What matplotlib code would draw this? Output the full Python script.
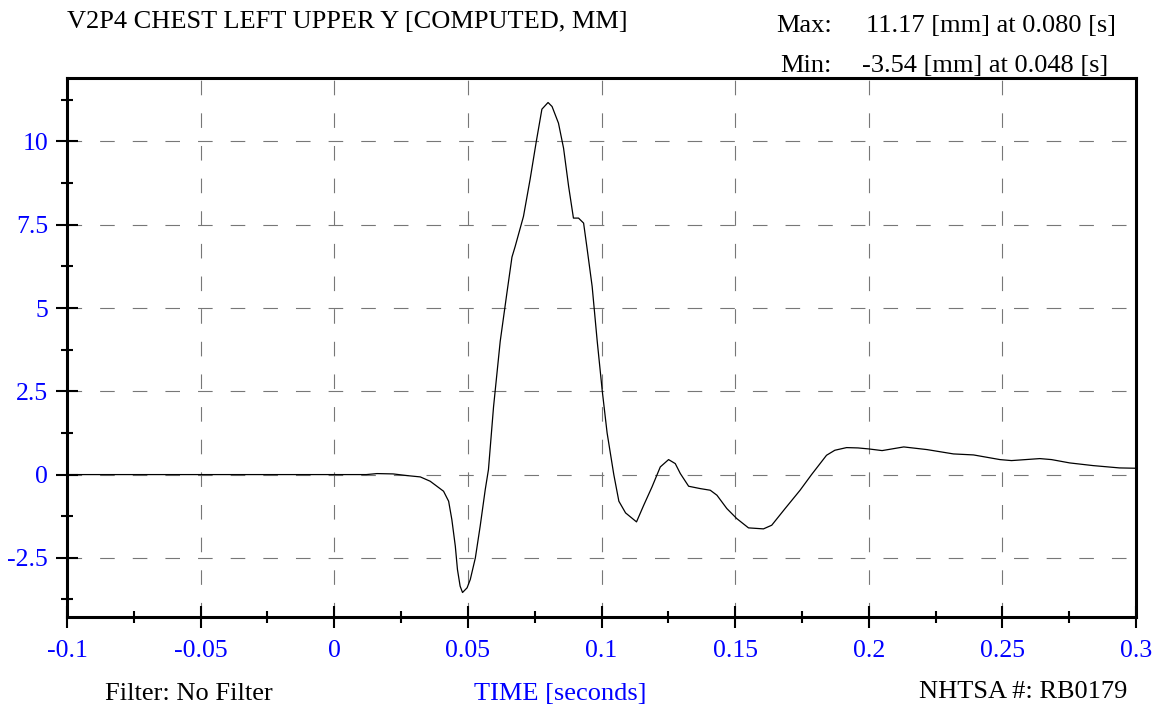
#!/usr/bin/env python3
"""
Chest deflection trace (V2P4, left upper Y) - NHTSA test RB0179
"""

import matplotlib
matplotlib.use('Agg')
import matplotlib.pyplot as plt
from matplotlib.ticker import MultipleLocator, FuncFormatter

plt.rcParams['font.family'] = ['Liberation Serif', 'DejaVu Serif']
plt.rcParams['lines.scale_dashes'] = False

# Trace (time in s, displacement in mm)
time_s = [-0.1, 0.0, 0.012, 0.016, 0.022, 0.0272, 0.0322, 0.0359, 0.0384, 0.0409,
          0.0428, 0.044, 0.0453, 0.0461, 0.0471, 0.048, 0.0497, 0.0509, 0.0528, 0.0546,
          0.0565, 0.0577, 0.0596, 0.0621, 0.0646, 0.0665, 0.0677, 0.0708, 0.0733, 0.0756,
          0.0777, 0.080, 0.0815, 0.0839, 0.0858, 0.0877, 0.0895, 0.0914, 0.0933, 0.0945,
          0.0965, 0.0984, 0.1003, 0.1021, 0.1046, 0.1065, 0.109, 0.1131, 0.1158, 0.1189,
          0.122, 0.1251, 0.1276, 0.1295, 0.1326, 0.1369, 0.1407, 0.1432, 0.1469, 0.1506,
          0.155, 0.1606, 0.1637, 0.1687, 0.1743, 0.1786, 0.1842, 0.1873, 0.1917, 0.196,
          0.2, 0.205, 0.2131, 0.2218, 0.2317, 0.2392, 0.2491, 0.2534, 0.264, 0.2684,
          0.2752, 0.2839, 0.2938, 0.3]
disp_mm = [0.0, 0.0, 0.0, 0.03, 0.02, -0.03, -0.07, -0.2, -0.35, -0.5,
           -0.8, -1.35, -2.15, -2.85, -3.35, -3.54, -3.4, -3.15, -2.5, -1.55,
           -0.45, 0.15, 2.03, 4.0, 5.45, 6.53, 6.85, 7.75, 8.87, 10.0,
           10.97, 11.17, 11.05, 10.55, 9.8, 8.65, 7.7, 7.7, 7.55, 6.85,
           5.65, 4.0, 2.5, 1.25, 0.0, -0.8, -1.15, -1.42, -0.92, -0.37,
           0.23, 0.45, 0.33, 0.03, -0.35, -0.42, -0.47, -0.62, -1.02, -1.32,
           -1.6, -1.63, -1.52, -1.02, -0.47, 0.0, 0.58, 0.73, 0.81, 0.8,
           0.77, 0.72, 0.83, 0.75, 0.62, 0.59, 0.45, 0.42, 0.48, 0.45,
           0.35, 0.27, 0.2, 0.19]

title = 'V2P4 CHEST LEFT UPPER Y [COMPUTED, MM]'
max_val, max_t = 11.17, 0.080
min_val, min_t = -3.54, 0.048
filter_text = 'Filter: No Filter'
test_id = 'NHTSA #: RB0179'

W, H = 1160, 709
fig = plt.figure(figsize=(W / 100, H / 100), dpi=100)
ax = fig.add_axes([67 / W, 1 - 617 / H, (1136 - 67) / W, (617 - 78) / H])

ax.plot(time_s, disp_mm, color='black', linewidth=0.9)

# 5% margin around data range, like the original software
span = max_val - min_val
ax.set_xlim(-0.1, 0.3)
ax.set_ylim(min_val - 0.05 * span, max_val + 0.05 * span)

ax.xaxis.set_major_locator(MultipleLocator(0.05))
ax.xaxis.set_minor_locator(MultipleLocator(0.025))
ax.yaxis.set_major_locator(MultipleLocator(2.5))
ax.yaxis.set_minor_locator(MultipleLocator(1.25))
fmt = FuncFormatter(lambda v, p: f'{round(v, 4) + 0.0:g}')
ax.xaxis.set_major_formatter(fmt)
ax.yaxis.set_major_formatter(fmt)

ax.grid(True, which='major', color='#777777', linewidth=0.8,
        linestyle=(0, (10.5, 13)))

ax.tick_params(which='major', direction='inout', length=16, width=1.5,
               labelsize=18.5, labelcolor='blue', top=False, right=False)
ax.tick_params(which='minor', direction='inout', length=8.5, width=1.5,
               top=False, right=False)
ax.tick_params(axis='x', which='major', pad=8.5)
ax.tick_params(axis='y', which='major', pad=5.5)

for sp in ax.spines.values():
    sp.set_linewidth(2.2)

# Header / footer texts
fs = 19
fig.text(67 / W, 1 - 28 / H, title, fontsize=fs, va='baseline', ha='left')
fig.text(832 / W, 1 - 32 / H, 'Max:', fontsize=fs, va='baseline', ha='right')
fig.text(866 / W, 1 - 32 / H, f'{max_val:.2f} [mm] at {max_t:.3f} [s]',
         fontsize=fs, va='baseline', ha='left')
fig.text(832 / W, 1 - 72 / H, 'Min:', fontsize=fs, va='baseline', ha='right')
fig.text(862 / W, 1 - 72 / H, f'{min_val:.2f} [mm] at {min_t:.3f} [s]',
         fontsize=fs, va='baseline', ha='left')

fig.text(105 / W, 1 - 700 / H, filter_text, fontsize=fs, va='baseline', ha='left')
fig.text(560 / W, 1 - 700 / H, 'TIME [seconds]', fontsize=fs, va='baseline',
         ha='center', color='blue')
fig.text(1127 / W, 1 - 698 / H, test_id, fontsize=fs, va='baseline', ha='right')

fig.savefig('out.png', dpi=100)
print("Saved out.png")
